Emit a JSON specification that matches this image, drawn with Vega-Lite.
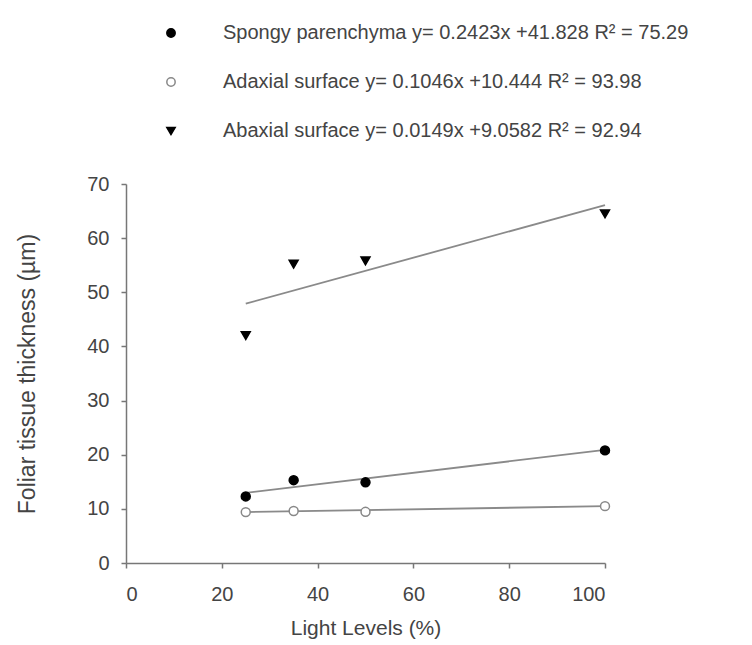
{
  "$schema": "https://vega.github.io/schema/vega-lite/v6.json",
  "width": 479,
  "height": 379,
  "autosize": "none",
  "padding": {"left": 126, "top": 184, "right": 147, "bottom": 82},
  "background": "white",
  "config": {
    "view": {"stroke": null},
    "font": "Liberation Sans",
    "axis": {"grid": false, "domainColor": "#777777", "domainWidth": 1.5, "tickColor": "#777777", "tickWidth": 1.5, "tickSize": 5, "labelColor": "#444444", "titleColor": "#444444", "labelFontSize": 20, "titleFontSize": 21, "titleFontWeight": "normal", "labelFont": "Liberation Sans", "titleFont": "Liberation Sans"}
  },
  "datasets": {
    "points": [
      {"series": "Spongy", "x": 25, "y": 12.3},
      {"series": "Spongy", "x": 35, "y": 15.3},
      {"series": "Spongy", "x": 50, "y": 14.9},
      {"series": "Spongy", "x": 100, "y": 20.8},
      {"series": "Adaxial", "x": 25, "y": 9.4},
      {"series": "Adaxial", "x": 35, "y": 9.6},
      {"series": "Adaxial", "x": 50, "y": 9.45},
      {"series": "Adaxial", "x": 100, "y": 10.5},
      {"series": "Abaxial", "x": 25, "y": 42.0},
      {"series": "Abaxial", "x": 35, "y": 55.2},
      {"series": "Abaxial", "x": 50, "y": 55.8},
      {"series": "Abaxial", "x": 100, "y": 64.5}
    ],
    "fits": [
      {"series": "Spongy", "x": 25, "y": 12.95},
      {"series": "Spongy", "x": 100, "y": 20.9},
      {"series": "Adaxial", "x": 25, "y": 9.4},
      {"series": "Adaxial", "x": 100, "y": 10.5},
      {"series": "Abaxial", "x": 25, "y": 47.9},
      {"series": "Abaxial", "x": 100, "y": 66.1}
    ]
  },
  "layer": [
    {
      "data": {"name": "fits"},
      "mark": {"type": "line", "color": "#8a8a8a", "strokeWidth": 1.8},
      "encoding": {
        "x": {"field": "x", "type": "quantitative", "scale": {"domain": [0, 100], "nice": false}, "axis": {"values": [0, 20, 40, 60, 80, 100], "title": "Light Levels (%)", "titlePadding": 13, "labelPadding": 16}},
        "y": {"field": "y", "type": "quantitative", "scale": {"domain": [0, 70], "nice": false}, "axis": {"values": [0, 10, 20, 30, 40, 50, 60, 70], "title": "Foliar tissue thickness (µm)", "titleFontSize": 23, "titlePadding": 47, "labelPadding": 12}},
        "detail": {"field": "series"}
      }
    },
    {
      "data": {"name": "points"},
      "mark": {"type": "point", "filled": false, "strokeWidth": 1.5, "opacity": 1, "size": 80},
      "encoding": {
        "x": {"field": "x", "type": "quantitative"},
        "y": {"field": "y", "type": "quantitative"},
        "shape": {"field": "series", "type": "nominal", "scale": {"domain": ["Spongy", "Adaxial", "Abaxial"], "range": ["circle", "circle", "triangle-down"]}, "legend": {"title": null, "orient": "none", "legendX": 35, "legendY": -161, "padding": 0, "rowPadding": 29, "labelFontSize": 20, "labelLimit": 0, "labelColor": "#444444", "labelOffset": 42, "symbolSize": 70, "labelExpr": "datum.label == 'Spongy' ? 'Spongy parenchyma y= 0.2423x +41.828 R² = 75.29' : datum.label == 'Adaxial' ? 'Adaxial surface y= 0.1046x +10.444 R² = 93.98' : 'Abaxial surface y= 0.0149x +9.0582 R² = 92.94'"}},
        "fill": {"field": "series", "type": "nominal", "scale": {"domain": ["Spongy", "Adaxial", "Abaxial"], "range": ["black", "white", "black"]}, "legend": {"title": null, "orient": "none", "legendX": 35, "legendY": -161, "padding": 0, "rowPadding": 29, "labelFontSize": 20, "labelLimit": 0, "labelColor": "#444444", "labelOffset": 42, "symbolSize": 70, "labelExpr": "datum.label == 'Spongy' ? 'Spongy parenchyma y= 0.2423x +41.828 R² = 75.29' : datum.label == 'Adaxial' ? 'Adaxial surface y= 0.1046x +10.444 R² = 93.98' : 'Abaxial surface y= 0.0149x +9.0582 R² = 92.94'"}},
        "stroke": {"field": "series", "type": "nominal", "scale": {"domain": ["Spongy", "Adaxial", "Abaxial"], "range": ["black", "#888888", "black"]}, "legend": {"title": null, "orient": "none", "legendX": 35, "legendY": -161, "padding": 0, "rowPadding": 29, "labelFontSize": 20, "labelLimit": 0, "labelColor": "#444444", "labelOffset": 42, "symbolSize": 70, "labelExpr": "datum.label == 'Spongy' ? 'Spongy parenchyma y= 0.2423x +41.828 R² = 75.29' : datum.label == 'Adaxial' ? 'Adaxial surface y= 0.1046x +10.444 R² = 93.98' : 'Abaxial surface y= 0.0149x +9.0582 R² = 92.94'"}}
      }
    }
  ]
}
